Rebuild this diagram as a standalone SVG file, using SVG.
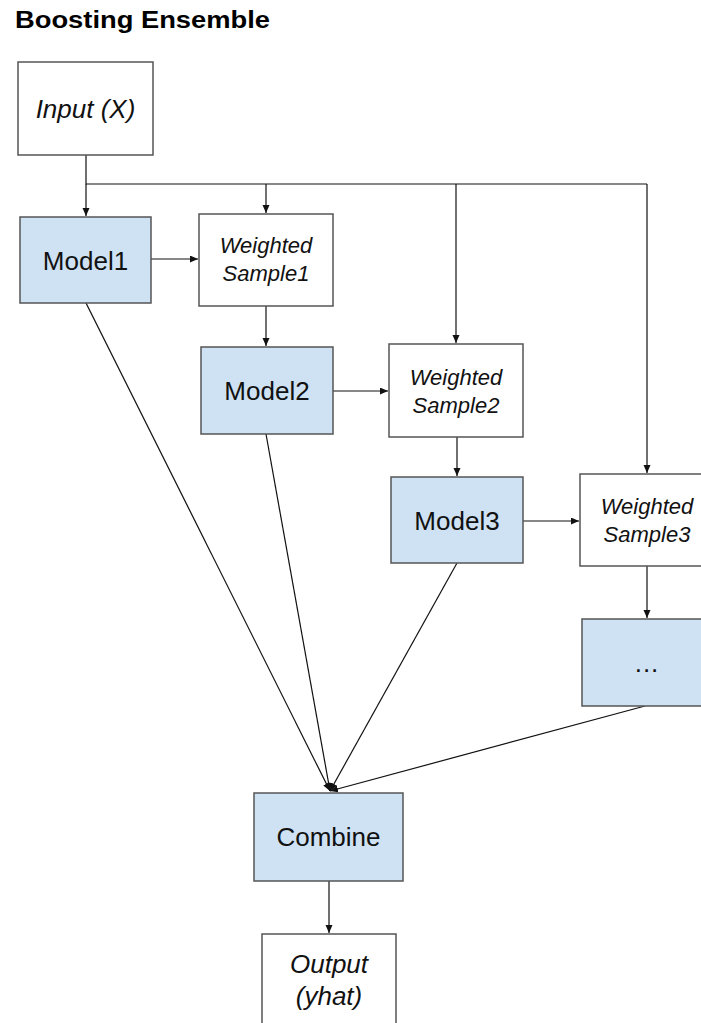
<svg xmlns="http://www.w3.org/2000/svg" width="701" height="1023" viewBox="0 0 701 1023">
  <defs>
    <marker id="arrow" markerWidth="9" markerHeight="8" refX="8" refY="3.5" orient="auto" markerUnits="userSpaceOnUse">
      <path d="M0,0 L8,3.5 L0,7 z" fill="#111"/>
    </marker>
    <style>
      .box { stroke: #555; stroke-width: 1.5; }
      .plain { fill: #ffffff; }
      .model { fill: #cfe2f3; }
      .lbl { font-family: "Liberation Sans", Arial, sans-serif; font-size: 26px; fill: #111; text-anchor: middle; }
      .it { font-style: italic; }
      .small { font-size: 22px; }
      .edge { fill: none; stroke: #111; stroke-width: 1.2; }
      .title { font-family: "Liberation Sans", Arial, sans-serif; font-size: 23px; font-weight: bold; fill: #000; }
    </style>
  </defs>

  <rect width="701" height="1023" fill="#ffffff"/>

  <text class="title" x="15" y="28" textLength="255" lengthAdjust="spacingAndGlyphs">Boosting Ensemble</text>

  <!-- connectors -->
  <g id="connectors">
    <path class="edge" d="M86,155 L86,184 L647,184"/>
    <line class="edge" x1="86" y1="184" x2="86" y2="216" marker-end="url(#arrow)"/>
    <line class="edge" x1="266" y1="184" x2="266" y2="213" marker-end="url(#arrow)"/>
    <line class="edge" x1="456" y1="184" x2="456" y2="343" marker-end="url(#arrow)"/>
    <line class="edge" x1="647" y1="184" x2="647" y2="473" marker-end="url(#arrow)"/>

    <line class="edge" x1="151" y1="259" x2="198" y2="259" marker-end="url(#arrow)"/>
    <line class="edge" x1="266" y1="306" x2="266" y2="346" marker-end="url(#arrow)"/>
    <line class="edge" x1="333" y1="391" x2="388" y2="391" marker-end="url(#arrow)"/>
    <line class="edge" x1="457" y1="437" x2="457" y2="476" marker-end="url(#arrow)"/>
    <line class="edge" x1="523" y1="521" x2="579" y2="521" marker-end="url(#arrow)"/>
    <line class="edge" x1="647" y1="566" x2="647" y2="618" marker-end="url(#arrow)"/>

    <line class="edge" x1="86" y1="303" x2="330" y2="791" marker-end="url(#arrow)"/>
    <line class="edge" x1="266" y1="434" x2="330" y2="791" marker-end="url(#arrow)"/>
    <line class="edge" x1="457" y1="563" x2="330" y2="791" marker-end="url(#arrow)"/>
    <line class="edge" x1="645" y1="706" x2="330" y2="791" marker-end="url(#arrow)"/>

    <line class="edge" x1="329" y1="881" x2="329" y2="933" marker-end="url(#arrow)"/>
  </g>

  <!-- nodes -->
  <g id="input">
    <rect class="box plain" x="18" y="62" width="135" height="93"/>
    <text class="lbl it" x="85.5" y="118">Input (X)</text>
  </g>

  <g id="model1">
    <rect class="box model" x="20" y="217" width="131" height="86"/>
    <text class="lbl" x="85.5" y="270">Model1</text>
  </g>

  <g id="weighted1">
    <rect class="box plain" x="199" y="214" width="134" height="92"/>
    <text class="lbl it small" x="266" y="253">Weighted</text>
    <text class="lbl it small" x="266" y="281">Sample1</text>
  </g>

  <g id="model2">
    <rect class="box model" x="201" y="347" width="132" height="87"/>
    <text class="lbl" x="267" y="400">Model2</text>
  </g>

  <g id="weighted2">
    <rect class="box plain" x="389" y="344" width="134" height="93"/>
    <text class="lbl it small" x="456" y="384.5">Weighted</text>
    <text class="lbl it small" x="456" y="412.5">Sample2</text>
  </g>

  <g id="model3">
    <rect class="box model" x="391" y="477" width="132" height="86"/>
    <text class="lbl" x="457" y="530">Model3</text>
  </g>

  <g id="weighted3">
    <rect class="box plain" x="580" y="474" width="134" height="92"/>
    <text class="lbl it small" x="647" y="513.5">Weighted</text>
    <text class="lbl it small" x="647" y="541.5">Sample3</text>
  </g>

  <g id="more">
    <rect class="box model" x="582" y="619" width="132" height="87"/>
    <text class="lbl" x="647" y="672" letter-spacing="1">...</text>
  </g>

  <g id="combine">
    <rect class="box model" x="254" y="793" width="149" height="88"/>
    <text class="lbl" x="328.5" y="846">Combine</text>
  </g>

  <g id="output">
    <rect class="box plain" x="262" y="934" width="134" height="92"/>
    <text class="lbl it" x="329" y="973">Output</text>
    <text class="lbl it" x="329" y="1005">(yhat)</text>
  </g>
</svg>
